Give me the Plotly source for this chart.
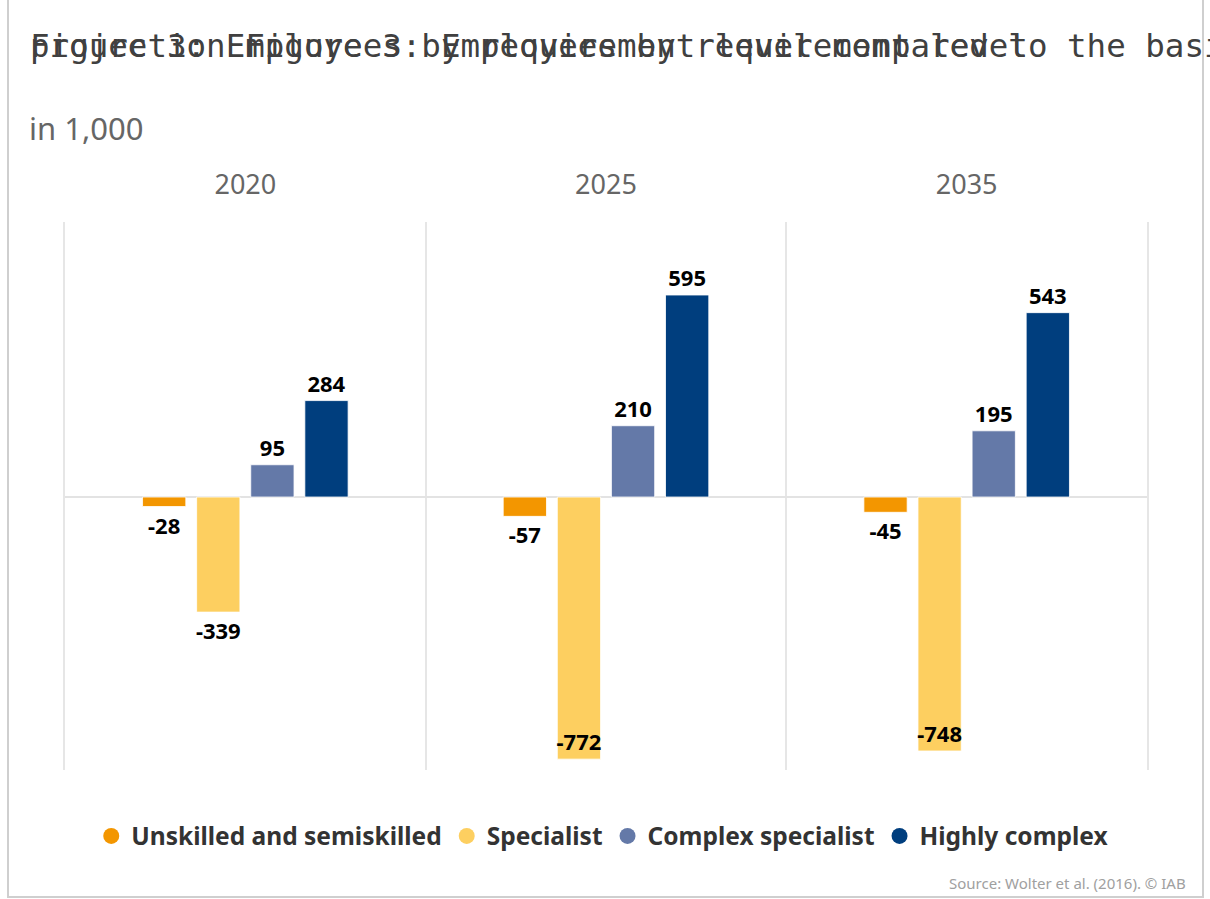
import plotly.graph_objects as go

# ---------------- data ----------------
years = ["2020", "2025", "2035"]
series_names = ["Unskilled and semiskilled", "Specialist", "Complex specialist", "Highly complex"]
unskilled = [-28, -57, -45]
specialist = [-339, -772, -748]
complex_specialist = [95, 210, 195]
highly_complex = [284, 595, 543]
title_texts = [
    "Figure 3: Employees by requirement level compared to the basis projection",
    "projection Figure 3: Employees by requirement level",
]
subtitle_text = "in 1,000"
source_text = "Source: Wolter et al. (2016). © IAB"

colors = ["#f39600", "#fdcf60", "#6479a8", "#003e7e"]
series_values = [unskilled, specialist, complex_specialist, highly_complex]

W, H = 1210, 899
ML, MR, MT, MB = 65, 63, 222, 129
PW = W - ML - MR
PH = H - MT - MB


def px(x):
    return (x - ML) / PW


def py(y):
    return (H - MB - y) / PH


fig = go.Figure()

label_font = dict(family="Noto Sans", size=22, color="#000000", weight="bold")

for name, vals, col in zip(series_names, series_values, colors):
    positions = ["inside" if v < -600 else "outside" for v in vals]
    fig.add_trace(go.Bar(
        x=years, y=vals, name=name,
        marker=dict(color=col, line=dict(color="rgba(255,255,255,0.8)", width=1)),
        text=[str(v) for v in vals],
        textposition=positions,
        insidetextanchor="end",
        textangle=0,
        textfont=label_font,
        insidetextfont=label_font,
        outsidetextfont=label_font,
        constraintext="none",
        cliponaxis=False,
        showlegend=False,
        hoverinfo="skip",
    ))

# legend entries with round markers
for name, col in zip(series_names, colors):
    fig.add_trace(go.Scatter(
        x=[None], y=[None], mode="markers", name=name,
        marker=dict(color=col, size=22, symbol="circle"),
        showlegend=True,
    ))

annotations = []
for t in title_texts:
    annotations.append(dict(
        text=t, xref="paper", yref="paper", x=px(28), y=py(46),
        xanchor="left", yanchor="middle", showarrow=False,
        font=dict(family="DejaVu Sans Mono", size=32.5, color="#404040"),
    ))
annotations.append(dict(
    text=subtitle_text, xref="paper", yref="paper", x=px(27), y=py(128),
    xanchor="left", yanchor="middle", showarrow=False,
    font=dict(family="Noto Sans", size=31, color="#666666"),
))
annotations.append(dict(
    text=source_text, xref="paper", yref="paper", x=px(1188), y=py(883),
    xanchor="right", yanchor="middle", showarrow=False,
    font=dict(family="Noto Sans", size=15, color="#a0a0a0"),
))

fig.update_layout(
    width=W, height=H,
    margin=dict(l=ML, r=MR, t=MT, b=MB, pad=0),
    paper_bgcolor="white", plot_bgcolor="white",
    barmode="group", bargap=0.4, bargroupgap=0.2,
    font=dict(family="Noto Sans"),
    annotations=annotations,
    legend=dict(
        orientation="h", x=0.497, xanchor="center", y=py(836), yanchor="middle",
        font=dict(family="Noto Sans", size=24.5, color="#333333", weight="bold"),
        itemsizing="trace", itemwidth=30, tracegroupgap=0,
    ),
    shapes=[dict(
        type="rect", xref="paper", yref="paper",
        x0=px(8), x1=px(1203), y0=py(897), y1=py(-5),
        line=dict(color="#cfcfcf", width=2), layer="below",
    )],
)

fig.update_xaxes(
    type="category", side="top", range=[-0.5, 2.5],
    showgrid=True, gridcolor="#e6e6e6", gridwidth=2, tickson="boundaries",
    ticks="", showline=False, zeroline=False,
    tickfont=dict(family="Noto Sans", size=27, color="#666666"),
    ticklabelstandoff=22,
)
fig.update_yaxes(
    range=[-804, 810], showgrid=False, showticklabels=False,
    showline=True, mirror=True, linecolor="#e6e6e6", linewidth=2,
    zeroline=True, zerolinecolor="#e3e3e3", zerolinewidth=2,
)

fig.write_html("out.html")
